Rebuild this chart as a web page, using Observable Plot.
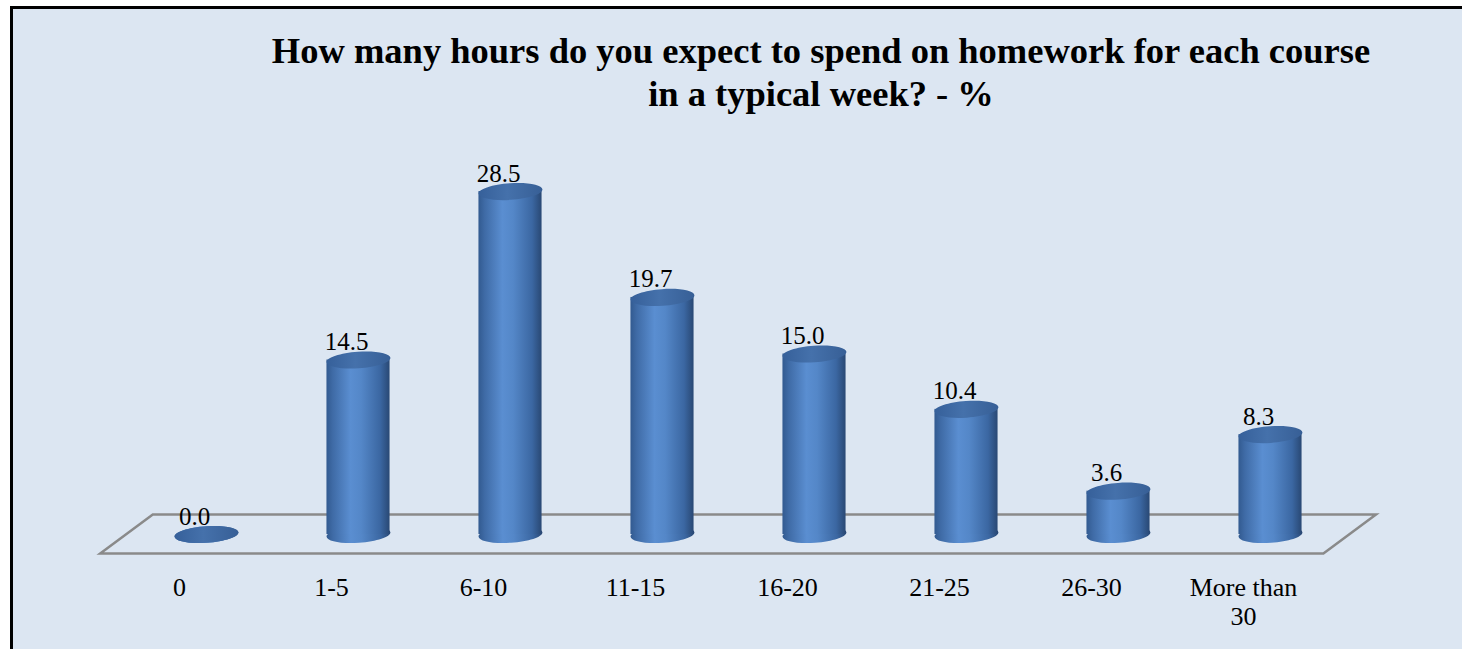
<!DOCTYPE html>
<html>
<head>
<meta charset="utf-8">
<script src="https://cdn.jsdelivr.net/npm/d3@7"></script>
<script src="https://cdn.jsdelivr.net/npm/@observablehq/plot@0.6"></script>
<style>
  html, body { margin: 0; padding: 0; background: #fff; overflow: hidden; width: 1462px; height: 649px; }
  #wrap { position: relative; width: 1462px; height: 649px; overflow: hidden; }
  #frame { position: absolute; left: 10px; top: 6px; width: 1449px; height: 640px;
           border-left: 3px solid #000; border-top: 3px solid #000; background: #dce6f2; }
  #title { position: absolute; left: 821px; top: 28.5px; transform: translateX(-50%);
           white-space: nowrap; text-align: center; font-family: "Liberation Serif", "Times New Roman", serif;
           font-weight: bold; font-size: 36.5px; line-height: 43px; color: #000; }
  #chart { position: absolute; left: 0; top: 130px; width: 1462px; height: 519px; }
</style>
</head>
<body>
<div id="wrap">
<div id="frame"></div>
<div id="title">How many hours do you expect to spend on homework for each course<br>in a typical week? - %</div>
<div id="chart"></div>
</div>
<script>
const categories = ["0", "1-5", "6-10", "11-15", "16-20", "21-25", "26-30", "More than 30"];
const values = [0.0, 14.5, 28.5, 19.7, 15.0, 10.4, 3.6, 8.3];
const tickLabels = ["0", "1-5", "6-10", "11-15", "16-20", "21-25", "26-30", "More than\n30"];

const data = categories.map((c, i) => ({cat: c, value: values[i], tick: tickLabels[i]}));

const serif = "'Liberation Serif', 'Times New Roman', serif";

// slightly tilted ellipse symbol (cylinder caps)
const ellipse = {
  draw(ctx) {
    const rx = 32, ry = 8.3, k = 0.5523, a = -4 * Math.PI / 180;
    const c = Math.cos(a), s = Math.sin(a);
    const R = (x, y) => [x * c - y * s, x * s + y * c];
    const P = (...pts) => pts.map(([x, y]) => R(x, y)).flat();
    ctx.moveTo(...R(-rx, 0));
    ctx.bezierCurveTo(...P([-rx, -ry * k], [-rx * k, -ry], [0, -ry]));
    ctx.bezierCurveTo(...P([rx * k, -ry], [rx, -ry * k], [rx, 0]));
    ctx.bezierCurveTo(...P([rx, ry * k], [rx * k, ry], [0, ry]));
    ctx.bezierCurveTo(...P([-rx * k, ry], [-rx, ry * k], [-rx, 0]));
    ctx.closePath();
  }
};

const defsMark = () => {
  const defs = d3.create("svg:defs");
  const g1 = defs.append("linearGradient").attr("id", "cylGrad")
    .attr("x1", 0).attr("x2", 1).attr("y1", 0).attr("y2", 0);
  [[0, "#325a90"], [0.1, "#3f6ba6"], [0.38, "#5a8ed1"], [0.55, "#5487c8"], [0.85, "#3b67a2"], [1, "#294874"]]
    .forEach(([o, c]) => g1.append("stop").attr("offset", o).attr("stop-color", c));
  const g2 = defs.append("linearGradient").attr("id", "topGrad")
    .attr("x1", 0).attr("x2", 1).attr("y1", 0).attr("y2", 0);
  [[0, "#36609a"], [0.45, "#4571ab"], [1, "#375f96"]]
    .forEach(([o, c]) => g2.append("stop").attr("offset", o).attr("stop-color", c));
  return defs.node();
};

const floorMark = (index, scales, vals, dims) => {
  const x0 = dims.marginLeft, x1 = dims.width - dims.marginRight, y0 = scales.y(0);
  const dx = 26.3, dy = 19.5;
  const pts = [[x0 - dx, y0 + dy], [x1 - dx, y0 + dy], [x1 + dx, y0 - dy], [x0 + dx, y0 - dy]];
  return d3.create("svg:polygon")
    .attr("points", pts.map(p => p.join(",")).join(" "))
    .attr("fill", "none").attr("stroke", "#8a8a8a").attr("stroke-width", 2.5)
    .attr("stroke-linejoin", "miter").node();
};

const bandInset = (152.9 - 64) / 2;

const chart = Plot.plot({
  width: 1462,
  height: 519,
  marginLeft: 126.5,
  marginRight: 112.3,
  marginTop: 43,
  marginBottom: 115,
  style: {background: "transparent", overflow: "visible"},
  x: {type: "band", domain: categories, padding: 0, axis: null},
  y: {domain: [0, 30], axis: null},
  marks: [
    defsMark,
    floorMark,
    Plot.dot(data, {x: "cat", y: d => 0, symbol: ellipse, fill: "url(#cylGrad)", stroke: "none"}),
    Plot.barY(data, {x: "cat", y: "value", fill: "url(#cylGrad)", insetLeft: bandInset, insetRight: bandInset}),
    Plot.dot(data, {x: "cat", y: "value", symbol: ellipse, fill: "url(#topGrad)", stroke: "none"}),
    Plot.text(data, {x: "cat", y: "value", text: d => d.value.toFixed(1), dx: -12, dy: -18,
      fontSize: 25, fontFamily: serif, fill: "#000"}),
    Plot.text(data, {x: "cat", y: d => 0, text: "tick", dx: -27, dy: 40.5, lineAnchor: "top",
      lineHeight: 1.115, fontSize: 26, fontFamily: serif, fill: "#000"})
  ]
});

document.getElementById("chart").appendChild(chart);
</script>
</body>
</html>
